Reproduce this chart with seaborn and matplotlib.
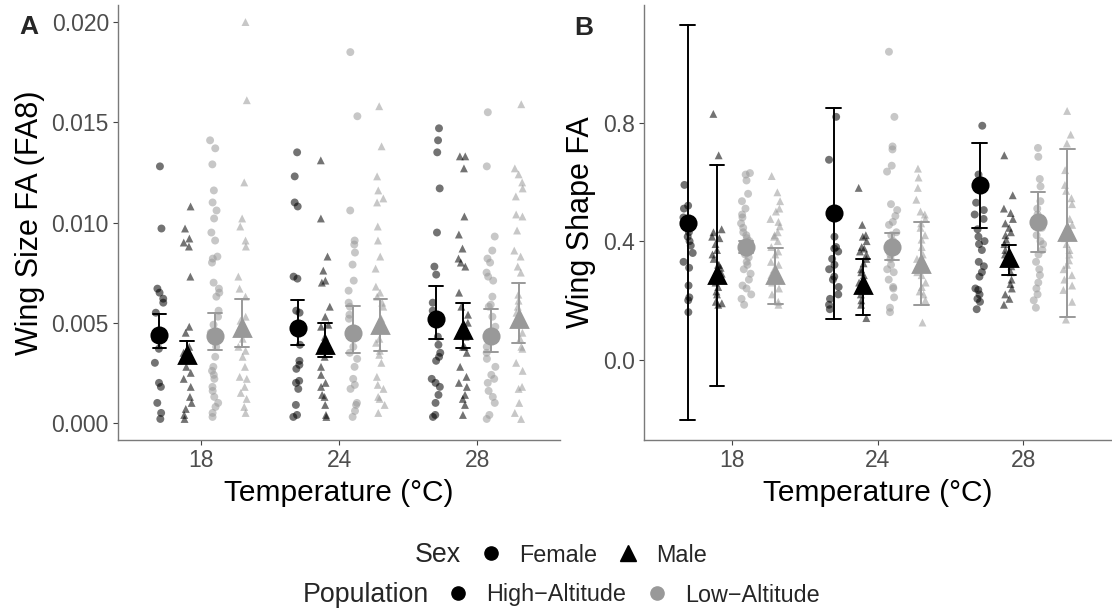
import numpy as np
import pandas as pd
import matplotlib
matplotlib.use("Agg")
import matplotlib.pyplot as plt
from matplotlib.lines import Line2D
import seaborn as sns

# ---------------- data ----------------
temps = ["18", "24", "28"]
groups = ["HA-F", "HA-M", "LA-F", "LA-M"]

# Panel A: Wing Size FA (FA8), individual values
sA_HF_18 = [0.0128, 0.0097, 0.0067, 0.0065, 0.0062, 0.0060, 0.0055, 0.0045, 0.0042, 0.0037, 0.0030, 0.0020, 0.0018, 0.0010, 0.0005, 0.0002]
sA_HM_18 = [0.0108, 0.0097, 0.0092, 0.0090, 0.0088, 0.0073, 0.0048, 0.0045, 0.0038, 0.0035, 0.0032, 0.0028, 0.0025, 0.0022, 0.0018, 0.0013, 0.0010, 0.0007, 0.0004, 0.0002]
sA_LF_18 = [0.0141, 0.0137, 0.0129, 0.0116, 0.0110, 0.0106, 0.0102, 0.0095, 0.0091, 0.0083, 0.0082, 0.0080, 0.0070, 0.0067, 0.0065, 0.0063, 0.0056, 0.0053, 0.0049, 0.0045, 0.0038, 0.0033, 0.0028, 0.0026, 0.0024, 0.0022, 0.0018, 0.0016, 0.0013, 0.0010, 0.0008, 0.0005, 0.0003]
sA_LM_18 = [0.0200, 0.0161, 0.0120, 0.0102, 0.0098, 0.0091, 0.0088, 0.0073, 0.0067, 0.0063, 0.0053, 0.0051, 0.0048, 0.0045, 0.0042, 0.0038, 0.0036, 0.0033, 0.0028, 0.0023, 0.0022, 0.0018, 0.0015, 0.0012, 0.0008, 0.0005]
sA_HF_24 = [0.0135, 0.0123, 0.0110, 0.0108, 0.0073, 0.0072, 0.0056, 0.0055, 0.0039, 0.0031, 0.0029, 0.0027, 0.0021, 0.0020, 0.0017, 0.0009, 0.0004, 0.0003]
sA_HM_24 = [0.0131, 0.0102, 0.0083, 0.0076, 0.0071, 0.0070, 0.0058, 0.0053, 0.0049, 0.0048, 0.0043, 0.0038, 0.0036, 0.0033, 0.0028, 0.0024, 0.0020, 0.0018, 0.0014, 0.0013, 0.0009, 0.0004, 0.0003]
sA_LF_24 = [0.0185, 0.0153, 0.0106, 0.0091, 0.0089, 0.0085, 0.0079, 0.0071, 0.0066, 0.0060, 0.0058, 0.0054, 0.0052, 0.0045, 0.0038, 0.0035, 0.0032, 0.0028, 0.0022, 0.0019, 0.0017, 0.0010, 0.0009, 0.0006, 0.0003]
sA_LM_24 = [0.0158, 0.0138, 0.0123, 0.0116, 0.0112, 0.0110, 0.0098, 0.0091, 0.0083, 0.0077, 0.0068, 0.0065, 0.0063, 0.0060, 0.0058, 0.0052, 0.0047, 0.0042, 0.0040, 0.0036, 0.0034, 0.0030, 0.0023, 0.0019, 0.0017, 0.0013, 0.0012, 0.0009, 0.0005]
sA_HF_28 = [0.0147, 0.0141, 0.0135, 0.0117, 0.0095, 0.0078, 0.0074, 0.0060, 0.0056, 0.0043, 0.0039, 0.0035, 0.0033, 0.0031, 0.0022, 0.0020, 0.0018, 0.0014, 0.0010, 0.0004, 0.0003]
sA_HM_28 = [0.0133, 0.0133, 0.0127, 0.0103, 0.0094, 0.0087, 0.0082, 0.0080, 0.0078, 0.0065, 0.0058, 0.0054, 0.0050, 0.0047, 0.0043, 0.0038, 0.0038, 0.0035, 0.0028, 0.0023, 0.0020, 0.0018, 0.0014, 0.0012, 0.0009, 0.0004]
sA_LF_28 = [0.0155, 0.0128, 0.0093, 0.0086, 0.0082, 0.0080, 0.0075, 0.0073, 0.0071, 0.0063, 0.0059, 0.0058, 0.0053, 0.0048, 0.0043, 0.0038, 0.0035, 0.0032, 0.0028, 0.0024, 0.0022, 0.0020, 0.0016, 0.0013, 0.0010, 0.0004, 0.0002]
sA_LM_28 = [0.0159, 0.0127, 0.0124, 0.0120, 0.0117, 0.0113, 0.0104, 0.0103, 0.0096, 0.0086, 0.0083, 0.0078, 0.0075, 0.0064, 0.0061, 0.0058, 0.0055, 0.0045, 0.0042, 0.0038, 0.0037, 0.0030, 0.0026, 0.0018, 0.0017, 0.0010, 0.0005, 0.0002]

# Panel A means and interval (order: 18[HF,HM,LF,LM], 24[...], 28[...])
mean_A = [0.0044, 0.0034, 0.00435, 0.00475, 0.00475, 0.0039, 0.0045, 0.0049, 0.0052, 0.00465, 0.00435, 0.0052]
lo_A = [0.00375, 0.0030, 0.00365, 0.0038, 0.0039, 0.0033, 0.0035, 0.0036, 0.0042, 0.00375, 0.00355, 0.0040]
hi_A = [0.00545, 0.0041, 0.0055, 0.0062, 0.00615, 0.0050, 0.00585, 0.0062, 0.00685, 0.0060, 0.0057, 0.0070]

# Panel B: Wing Shape FA, individual values
sB_HF_18 = [0.59, 0.52, 0.51, 0.48, 0.43, 0.415, 0.40, 0.385, 0.36, 0.33, 0.31, 0.25, 0.21, 0.20, 0.16]
sB_HM_18 = [0.83, 0.69, 0.44, 0.43, 0.415, 0.41, 0.39, 0.37, 0.355, 0.34, 0.32, 0.32, 0.31, 0.29, 0.26, 0.245, 0.23, 0.22, 0.195, 0.19, 0.185]
sB_LF_18 = [0.63, 0.625, 0.605, 0.56, 0.535, 0.51, 0.49, 0.48, 0.46, 0.445, 0.43, 0.42, 0.41, 0.40, 0.39, 0.375, 0.355, 0.345, 0.33, 0.32, 0.305, 0.29, 0.27, 0.25, 0.24, 0.22, 0.205, 0.185]
sB_LM_18 = [0.62, 0.565, 0.535, 0.51, 0.50, 0.475, 0.465, 0.45, 0.43, 0.42, 0.415, 0.40, 0.38, 0.365, 0.355, 0.33, 0.32, 0.305, 0.285, 0.26, 0.24, 0.22, 0.195, 0.185]
sB_HF_24 = [0.82, 0.675, 0.50, 0.415, 0.38, 0.375, 0.365, 0.34, 0.32, 0.305, 0.28, 0.27, 0.245, 0.22, 0.205, 0.185, 0.17]
sB_HM_24 = [0.58, 0.455, 0.42, 0.415, 0.40, 0.38, 0.375, 0.365, 0.355, 0.34, 0.325, 0.305, 0.295, 0.285, 0.26, 0.24, 0.22, 0.20, 0.185, 0.14]
sB_LF_24 = [1.04, 0.82, 0.72, 0.71, 0.655, 0.635, 0.525, 0.505, 0.485, 0.465, 0.455, 0.43, 0.42, 0.40, 0.375, 0.355, 0.34, 0.32, 0.305, 0.295, 0.27, 0.245, 0.24, 0.21, 0.175, 0.16]
sB_LM_24 = [0.645, 0.615, 0.58, 0.54, 0.50, 0.49, 0.475, 0.46, 0.445, 0.42, 0.405, 0.38, 0.355, 0.34, 0.32, 0.295, 0.285, 0.26, 0.245, 0.23, 0.22, 0.20, 0.125]
sB_HF_28 = [0.79, 0.625, 0.53, 0.505, 0.49, 0.475, 0.44, 0.415, 0.40, 0.39, 0.37, 0.33, 0.315, 0.295, 0.28, 0.24, 0.235, 0.22, 0.205, 0.195, 0.17]
sB_HM_28 = [0.69, 0.555, 0.51, 0.495, 0.475, 0.46, 0.445, 0.43, 0.42, 0.405, 0.39, 0.37, 0.355, 0.335, 0.315, 0.295, 0.27, 0.255, 0.24, 0.22, 0.205, 0.185]
sB_LF_28 = [0.715, 0.685, 0.61, 0.585, 0.535, 0.51, 0.49, 0.445, 0.42, 0.40, 0.39, 0.37, 0.355, 0.33, 0.305, 0.285, 0.26, 0.24, 0.22, 0.20, 0.175]
sB_LM_28 = [0.84, 0.76, 0.73, 0.64, 0.59, 0.57, 0.545, 0.525, 0.475, 0.455, 0.43, 0.41, 0.39, 0.37, 0.355, 0.335, 0.32, 0.305, 0.285, 0.27, 0.25, 0.235, 0.195, 0.135]

mean_B = [0.46, 0.286, 0.381, 0.286, 0.494, 0.252, 0.381, 0.323, 0.589, 0.344, 0.466, 0.432]
lo_B = [-0.204, -0.089, 0.36, 0.187, 0.136, 0.15, 0.337, 0.184, 0.443, 0.286, 0.364, 0.143]
hi_B = [1.13, 0.657, 0.40, 0.378, 0.851, 0.34, 0.426, 0.463, 0.732, 0.388, 0.565, 0.712]

raw_A = {("18", "HA-F"): sA_HF_18, ("18", "HA-M"): sA_HM_18, ("18", "LA-F"): sA_LF_18, ("18", "LA-M"): sA_LM_18,
         ("24", "HA-F"): sA_HF_24, ("24", "HA-M"): sA_HM_24, ("24", "LA-F"): sA_LF_24, ("24", "LA-M"): sA_LM_24,
         ("28", "HA-F"): sA_HF_28, ("28", "HA-M"): sA_HM_28, ("28", "LA-F"): sA_LF_28, ("28", "LA-M"): sA_LM_28}
raw_B = {("18", "HA-F"): sB_HF_18, ("18", "HA-M"): sB_HM_18, ("18", "LA-F"): sB_LF_18, ("18", "LA-M"): sB_LM_18,
         ("24", "HA-F"): sB_HF_24, ("24", "HA-M"): sB_HM_24, ("24", "LA-F"): sB_LF_24, ("24", "LA-M"): sB_LM_24,
         ("28", "HA-F"): sB_HF_28, ("28", "HA-M"): sB_HM_28, ("28", "LA-F"): sB_LF_28, ("28", "LA-M"): sB_LM_28}


def long_raw(raw):
    rows = []
    for (t, g), vals in raw.items():
        for v in vals:
            rows.append({"Temperature": t, "Group": g, "Sex": g[-1], "value": v})
    return pd.DataFrame(rows)


def long_summary(mean, lo, hi):
    rows = []
    i = 0
    for t in temps:
        for g in groups:
            for v in (lo[i], mean[i], hi[i]):
                rows.append({"Temperature": t, "Group": g, "value": v})
            i += 1
    return pd.DataFrame(rows)


# ---------------- style ----------------
sns.set_style("white")
plt.rcParams["font.family"] = ["Liberation Sans", "DejaVu Sans"]

pal_pts = {"HA-F": "#000000", "HA-M": "#000000", "LA-F": "#999999", "LA-M": "#999999"}
pal_mean = {"HA-F": "#000000", "HA-M": "#000000", "LA-F": "#999999", "LA-M": "#999999"}

W, H = 1112, 611
fig = plt.figure(figsize=(W / 100, H / 100), dpi=100)
axA = fig.add_axes([118 / W, 1 - 440 / H, (560 - 118) / W, (440 - 5) / H])
axB = fig.add_axes([644 / W, 1 - 440 / H, (1111 - 644) / W, (440 - 5) / H])

np.random.seed(3)


def draw_panel(ax, raw, mean, lo, hi):
    df = long_raw(raw)
    for sex, mk in (("F", "o"), ("M", "^")):
        sns.stripplot(data=df[df["Sex"] == sex], x="Temperature", y="value", hue="Group",
                      order=temps, hue_order=groups, palette=pal_pts, dodge=True,
                      jitter=0.14, marker=mk, size=5.7, alpha=0.55, linewidth=0,
                      legend=False, ax=ax)
    dm = long_summary(mean, lo, hi)
    sns.pointplot(data=dm, x="Temperature", y="value", hue="Group", order=temps,
                  hue_order=groups, palette=pal_mean, markers=["o", "^", "o", "^"],
                  linestyle="none", estimator="median", errorbar=("pi", 100),
                  dodge=0.6, capsize=0.1, err_kws={"linewidth": 1.4},
                  markersize=11, legend=False, ax=ax)
    ax.set_xlim(-0.6, 2.6)
    for s in ("top", "right"):
        ax.spines[s].set_visible(False)
    for s in ("left", "bottom"):
        ax.spines[s].set_color("#7a7a7a")
        ax.spines[s].set_linewidth(1.0)
    ax.tick_params(axis="both", which="both", direction="out", length=3.5, width=0.8,
                   color="#444444", labelcolor="#4d4d4d", labelsize=16.5, pad=3,
                   left=True, bottom=True)
    ax.set_xlabel("Temperature (°C)", fontsize=21.5, labelpad=5, color="black")


draw_panel(axA, raw_A, mean_A, lo_A, hi_A)
axA.set_ylim(-0.00085, 0.02085)
axA.set_yticks([0.0, 0.005, 0.010, 0.015, 0.020])
axA.set_yticklabels(["0.000", "0.005", "0.010", "0.015", "0.020"])
axA.set_ylabel("Wing Size FA (FA8)", fontsize=22, labelpad=5, color="black")

draw_panel(axB, raw_B, mean_B, lo_B, hi_B)
axB.set_ylim(-0.272, 1.198)
axB.set_yticks([0.0, 0.4, 0.8])
axB.set_yticklabels(["0.0", "0.4", "0.8"])
axB.set_ylabel("Wing Shape FA", fontsize=22, labelpad=5, color="black")

fig.text(29 / W, 1 - 27 / H, "A", fontsize=19, fontweight="bold", ha="center", va="center")
fig.text(584 / W, 1 - 28 / H, "B", fontsize=19, fontweight="bold", ha="center", va="center")

# ---------------- legends (each row centred) ----------------
sex_handles = [Line2D([], [], marker="o", color="black", linestyle="", markersize=9.5),
               Line2D([], [], marker="^", color="black", linestyle="", markersize=11)]
pop_handles = [Line2D([], [], marker="o", color="black", linestyle="", markersize=9.5),
               Line2D([], [], marker="o", color="#999999", linestyle="", markersize=9.5)]

rows = [("Sex", sex_handles, ["Female", "Male"], 1 - 555 / H),
        ("Population", pop_handles, ["High\u2212Altitude", "Low\u2212Altitude"], 1 - 595 / H)]
centre_px = 561
gap_px = 18
fig.canvas.draw()
renderer = fig.canvas.get_renderer()
for title, handles, labels, yy in rows:
    t = fig.text(0, yy, title, fontsize=19.3, ha="left", va="center")
    leg = fig.legend(handles, labels, loc="center left", bbox_to_anchor=(0, yy),
                     ncol=2, frameon=False, fontsize=16.8, handlelength=1.0,
                     handletextpad=0.7, columnspacing=0.83, borderpad=0, borderaxespad=0)
    tw = t.get_window_extent(renderer).width
    lw = leg.get_window_extent(renderer).width
    start = centre_px - (tw + gap_px + lw) / 2
    t.set_x(start / W)
    leg.set_bbox_to_anchor(((start + tw + gap_px) / W, yy), transform=fig.transFigure)

fig.savefig("out.png", dpi=100)
